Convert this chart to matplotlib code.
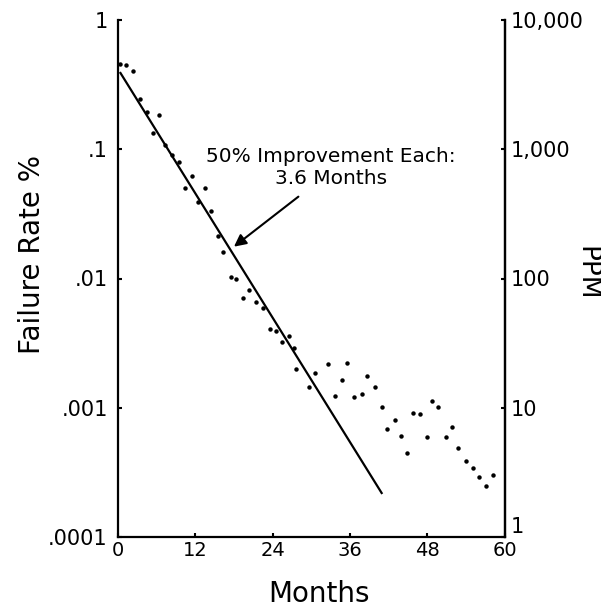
import matplotlib
matplotlib.use("Agg")
import matplotlib.pyplot as plt

# ---- data ----
months = [0.4, 1.3, 2.4, 3.5, 4.6, 5.5, 6.5, 7.4, 8.5, 9.5,
          10.4, 11.5, 12.5, 13.6, 14.4, 15.6, 16.4, 17.5, 18.4, 19.4,
          20.4, 21.4, 22.6, 23.6, 24.6, 25.5, 26.6, 27.4, 27.6, 29.7,
          30.6, 32.6, 33.7, 34.8, 35.6, 36.6, 37.8, 38.7, 39.8, 40.9,
          41.7, 43.0, 43.9, 44.9, 45.7, 46.9, 47.9, 48.7, 49.7, 50.9,
          51.8, 52.8, 54.0, 55.0, 56.0, 57.0, 58.1]
failure_rate = [0.454, 0.449, 0.405, 0.243, 0.195, 0.134, 0.185, 0.108, 0.090, 0.079,
                0.050, 0.062, 0.039, 0.050, 0.033, 0.0214, 0.0160, 0.0102, 0.0099, 0.0071,
                0.0081, 0.0066, 0.0059, 0.0041, 0.0039, 0.0032, 0.0036, 0.0029, 0.0020, 0.00144,
                0.00185, 0.00217, 0.00124, 0.00163, 0.00223, 0.00122, 0.00127, 0.00176, 0.00146, 0.00101,
                0.00069, 0.00080, 0.00060, 0.00045, 0.00091, 0.00090, 0.00059, 0.00113, 0.00102, 0.00059,
                0.00071, 0.00049, 0.00039, 0.00034, 0.00029, 0.00025, 0.00030]

trend_months = [0.46, 40.9]
trend_rate = [0.389, 2.19e-4]

x_ticks = [0, 12, 24, 36, 48, 60]
x_labels = ["0", "12", "24", "36", "48", "60"]
left_ticks = [1e-4, 1e-3, 1e-2, 1e-1, 1]
left_labels = [".0001", ".001", ".01", ".1", "1"]
right_ticks = [1, 10, 100, 1000, 10000]
right_labels = ["1", "10", "100", "1,000", "10,000"]

annotation_text = "50% Improvement Each:\n3.6 Months"
annotation_text_pos = (33.0, 0.072)
arrow_tail = (28.35, 0.0443)
arrow_head = (17.69, 0.0171)

# ---- figure ----
plt.rcParams['font.family'] = ['DejaVu Sans']
fig = plt.figure(figsize=(6.01, 6.08), dpi=100)
ax = fig.add_axes([117.5 / 601, 1 - 537 / 608, (505 - 117.5) / 601, 517 / 608])

ax.plot(months, failure_rate, 'o', color='black', markersize=3.2, markeredgewidth=0)
ax.plot(trend_months, trend_rate, '-', color='black', linewidth=1.6)

ax.set_yscale('log')
ax.set_xlim(0, 60)
ax.set_ylim(1e-4, 1)
ax.set_xticks(x_ticks)
ax.set_xticklabels(x_labels, fontsize=14)
ax.set_yticks(left_ticks)
ax.set_yticklabels(left_labels, fontsize=15)
ax.yaxis.set_minor_locator(matplotlib.ticker.NullLocator())
ax.tick_params(axis='both', direction='in', length=3, width=1.5, color='black')
ax.tick_params(axis='y', pad=7)
ax.tick_params(axis='x', pad=3)

for s in ['left', 'right', 'bottom']:
    ax.spines[s].set_linewidth(1.6)
ax.spines['top'].set_visible(False)

ax2 = ax.twinx()
ax2.set_yscale('log')
ax2.set_ylim(1, 10000)
ax2.set_yticks(right_ticks)
ax2.set_yticklabels(right_labels, fontsize=15)
ax2.yaxis.set_minor_locator(matplotlib.ticker.NullLocator())
ax2.tick_params(axis='y', direction='in', length=3, width=1.5, pad=4)
ax2.spines['top'].set_visible(False)
ax2.spines['right'].set_linewidth(1.6)
ax2.spines['left'].set_visible(False)
ax2.spines['bottom'].set_visible(False)
# the lowest right-hand label sits just above the corner, as in the reference
ax2.get_yticklabels()[0].set_verticalalignment('bottom')

ax.annotate("", xy=arrow_head, xytext=arrow_tail,
            arrowprops=dict(arrowstyle='-|>', color='black', lw=1.5, mutation_scale=18))
ax.text(annotation_text_pos[0], annotation_text_pos[1], annotation_text,
        ha='center', va='center', fontsize=14.5, linespacing=1.2)

fig.text(32 / 601, 1 - 255 / 608, "Failure Rate %", rotation=90, ha='center', va='center', fontsize=20)
fig.text(586 / 601, 1 - 273 / 608, "PPM", rotation=-90, ha='center', va='center', fontsize=19)
fig.text(319 / 601, 1 - 594 / 608, "Months", ha='center', va='center', fontsize=20)

fig.savefig("out.png", dpi=100)
